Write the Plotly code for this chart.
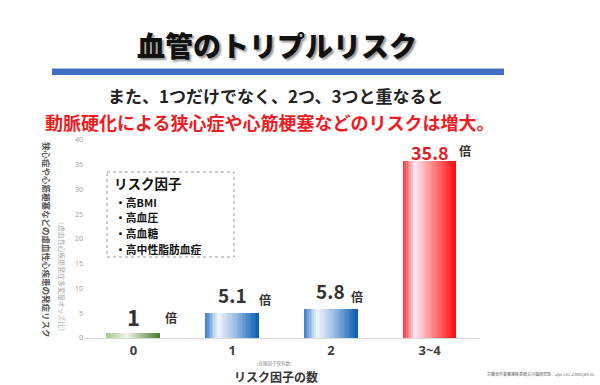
import plotly.graph_objects as go

# ---- data ----
categories = ["0", "1", "2", "3~4"]
risk_values = [1, 5.1, 5.8, 35.8]
value_labels = ["1", "5.1", "5.8", "35.8"]
y_ticks = [0, 5, 10, 15, 20, 25, 30, 35, 40]
legend_items = ["・高BMI", "・高血圧", "・高血糖", "・高中性脂肪血症"]

W, H = 600, 385
L, R, T, B = 84, 121, 140, 47
PW, PH = W - L - R, H - T - B
FONT = "Noto Sans CJK JP"


def px(x):
    return (x - L) / PW


def py(y):
    return (H - B - y) / PH


def hex2rgb(h):
    h = h.lstrip("#")
    return [int(h[i:i + 2], 16) for i in (0, 2, 4)]


def grad(stops, t):
    for (t0, c0), (t1, c1) in zip(stops, stops[1:]):
        if t0 <= t <= t1:
            f = (t - t0) / (t1 - t0) if t1 > t0 else 0
            a, b = hex2rgb(c0), hex2rgb(c1)
            return "rgb(%d,%d,%d)" % tuple(round(a[k] + (b[k] - a[k]) * f) for k in range(3))
    return stops[-1][1]


green = [(0, "#a3c78a"), (0.38, "#eef5ea"), (1, "#4a7d2b")]
blue = [(0, "#3b7ac8"), (0.24, "#f3f7fc"), (0.55, "#9fc0e6"), (1, "#0a60b4")]
red = [(0, "#ff2a2a"), (0.22, "#ffe8f6"), (0.5, "#ff9c9c"), (1, "#ff0a0a")]
bar_grads = [green, blue, blue, red]

fig = go.Figure()
N = 32
bw = 0.535
sw = bw / N
for i in range(N):
    t = (i + 0.5) / N
    fig.add_trace(go.Bar(
        x=list(range(len(categories))), y=risk_values,
        width=sw * 1.15, offset=-bw / 2 + i * sw,
        marker=dict(color=[grad(g, t) for g in bar_grads], line=dict(width=0)),
        showlegend=False, hoverinfo="skip"))

ann = []
# value labels
num_sizes = [22, 19, 19, 18]
num_colors = ["#333333", "#333333", "#333333", "#e31e24"]
num_yshift = [17, 18, 19, 9]
bai_xshift = [38, 33, 26, 35]
bai_yshift = [16, 13, 13, 10]
for i, (v, lab) in enumerate(zip(risk_values, value_labels)):
    ann.append(dict(x=i, y=v, xref="x", yref="y", text=lab, showarrow=False,
                    yshift=num_yshift[i], yanchor="middle",
                    font=dict(family=FONT, size=num_sizes[i], color=num_colors[i], weight="bold")))
    ann.append(dict(x=i, y=v, xref="x", yref="y", text="倍", showarrow=False,
                    xshift=bai_xshift[i], yshift=bai_yshift[i], yanchor="middle",
                    font=dict(family=FONT, size=12, color="#333333", weight="bold")))

# title & subtitles
ann.append(dict(x=px(277), y=py(45), xref="paper", yref="paper", text="血管のトリプルリスク",
                showarrow=False, xanchor="center", yanchor="middle",
                font=dict(family=FONT, size=28, color="#111111", weight=900, shadow="2px 2px 2px #9a9a9a")))
ann.append(dict(x=px(275), y=py(96), xref="paper", yref="paper",
                text="また、1つだけでなく、2つ、3つと重なると",
                showarrow=False, xanchor="center", yanchor="middle", borderpad=0,
                font=dict(family=FONT, size=17, color="#222222", weight="bold")))
ann.append(dict(x=px(269), y=py(122), xref="paper", yref="paper",
                text="動脈硬化による狭心症や心筋梗塞などのリスクは増大。",
                showarrow=False, xanchor="center", yanchor="middle", borderpad=0,
                font=dict(family=FONT, size=18, color="#ee1c25", weight="bold")))

# legend box texts
ann.append(dict(x=px(113), y=py(183), xref="paper", yref="paper", text="リスク因子",
                showarrow=False, xanchor="left", yanchor="middle", borderpad=0,
                font=dict(family=FONT, size=13.5, color="#111111", weight="bold")))
for k, item in enumerate(legend_items):
    ann.append(dict(x=px(114), y=py(201.5 + k * 15.7), xref="paper", yref="paper", text=item,
                    showarrow=False, xanchor="left", yanchor="middle", borderpad=0,
                    font=dict(family=FONT, size=10.8, color="#111111", weight="bold")))

# vertical y-axis titles
ytitle1 = "狭心症や心筋梗塞などの虚血性心疾患の発症リスク"
ytitle2 = "（虚血性心疾患発症多変量オッズ比）"
ann.append(dict(x=px(47), y=py(240), xref="paper", yref="paper", text=ytitle1,
                textangle=90, showarrow=False, xanchor="center", yanchor="middle", borderpad=0,
                font=dict(family=FONT, size=8.5, color="#555555", weight="bold")))
ann.append(dict(x=px(62), y=py(276), xref="paper", yref="paper", text=ytitle2,
                textangle=90, showarrow=False, xanchor="center", yanchor="middle", borderpad=0,
                font=dict(family=FONT, size=6.9, color="#aaaaaa")))

# x-axis titles
ann.append(dict(x=px(274), y=py(363), xref="paper", yref="paper", text="（危険因子保有数）",
                showarrow=False, xanchor="center", yanchor="middle", borderpad=0,
                font=dict(family=FONT, size=4.5, color="#888888")))
ann.append(dict(x=px(276), y=py(376), xref="paper", yref="paper", text="リスク因子の数",
                showarrow=False, xanchor="center", yanchor="middle", borderpad=0,
                font=dict(family=FONT, size=12, color="#333333", weight="bold")))
# citation
ann.append(dict(x=px(597), y=py(374), xref="paper", yref="paper",
                text="労働省作業関連疾患総合対策研究班：<i>Jpn Circ J</i> 2001;65:11.",
                showarrow=False, xanchor="right", yanchor="middle",
                font=dict(family=FONT, size=4, color="#555555")))

shapes = [
    dict(type="rect", xref="paper", yref="paper", x0=px(52), x1=px(504), y0=py(68), y1=py(75),
         fillcolor="#3f6fc3", line=dict(width=0), layer="above"),
    dict(type="line", xref="paper", yref="paper", x0=px(52), x1=px(504), y0=py(68.5), y1=py(68.5),
         line=dict(color="#a9c0e6", width=1.2), layer="above"),
    dict(type="rect", xref="paper", yref="paper", x0=px(107), x1=px(234), y0=py(172), y1=py(257),
         line=dict(color="#9a9a9a", width=1, dash="dot"), fillcolor="rgba(0,0,0,0)"),
]

fig.update_layout(
    width=W, height=H,
    margin=dict(l=L, r=R, t=T, b=B),
    paper_bgcolor="white", plot_bgcolor="white",
    barmode="overlay", bargap=0,
    annotations=ann, shapes=shapes,
    showlegend=False,
    font=dict(family=FONT),
)
fig.update_xaxes(range=[-0.5, 3.5], tickvals=list(range(len(categories))), ticktext=categories,
                 showline=True, linecolor="#d9d9d9", linewidth=1, showgrid=False, zeroline=False,
                 ticks="", tickfont=dict(family="Noto Sans", size=13, color="#404040", weight="bold"))
fig.update_yaxes(range=[0, 40], tickvals=y_ticks, showline=False, showgrid=False, zeroline=False,
                 ticks="", tickfont=dict(family="Noto Sans", size=7, color="#a0a0a0"))

fig.write_html("out.html", config={"displayModeBar": False},
               post_script="document.body.style.margin='0';")
